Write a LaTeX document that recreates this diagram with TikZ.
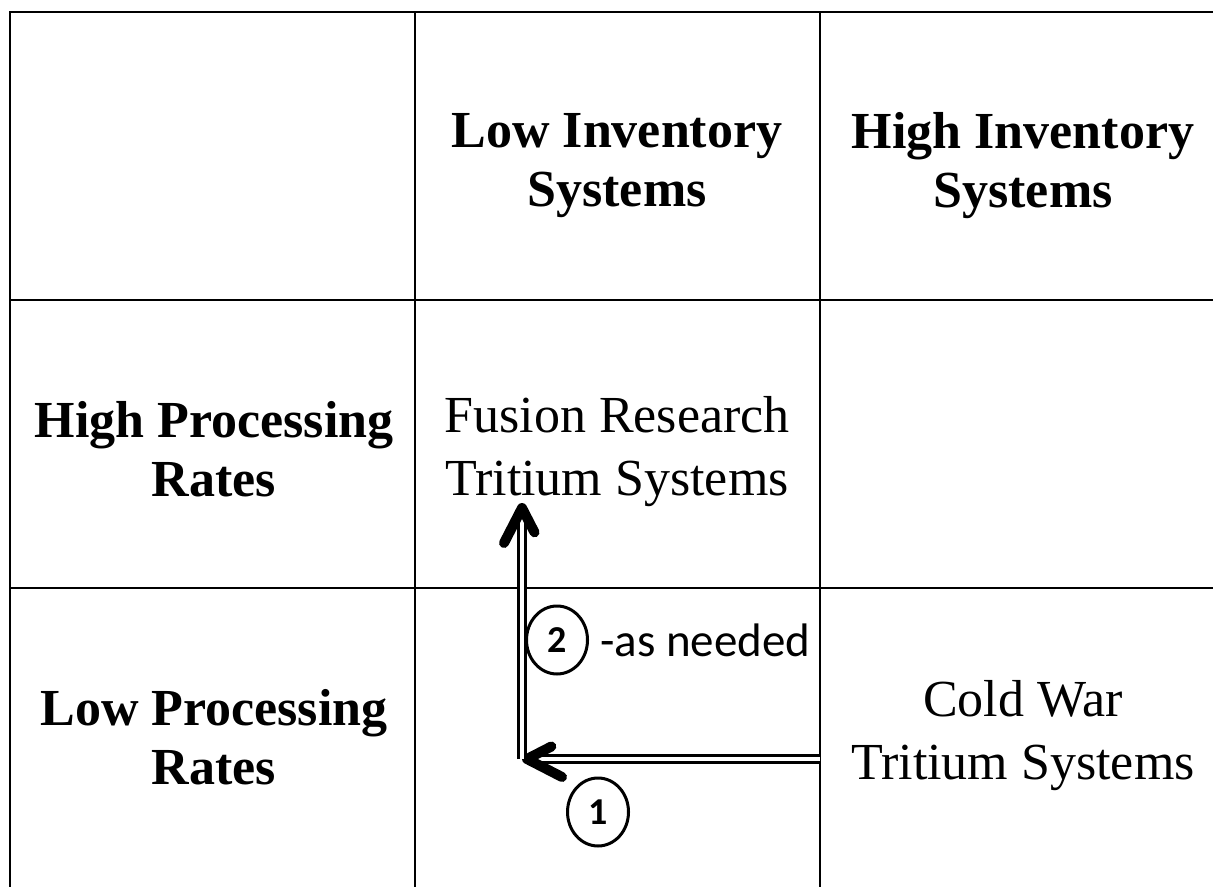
\documentclass[tikz,border=0pt]{standalone}
\usepackage{fontspec}
\setmainfont{Liberation Serif}
\newfontfamily\calibri{Carlito}
\usetikzlibrary{positioning, shapes.geometric, decorations.markings}

\begin{document}
\begin{tikzpicture}[x = 0.5pt, y = -0.5pt, % one unit per pixel, y going down
                line width = 1.4pt % table line style
            ]

            \tikzstyle{every node}=[inner sep = 0pt, align = center]
            \tikzstyle{head}=[font = \fontsize{26}{29.5}\selectfont\bfseries]
            \tikzstyle{cell}=[font = \fontsize{26}{31.5}\selectfont]
            \tikzstyle{num}=[draw, ellipse, line width = 1.5pt,
            minimum width = 30.5pt, minimum height = 34pt,
            font = \calibri\fontsize{19}{19}\selectfont\bfseries]
            \tikzstyle{note}=[font = \calibri\fontsize{23.5}{28}\selectfont]
            \tikzstyle{move}=[double, double distance = 2.2pt, line width = 1.3pt,
            shorten > = 6pt, postaction = {decorate, decoration = {markings,
            mark = at position 1 with {\draw[line width = 5pt, line cap = round,
            line join = round] (-40,-18) -- (-5,0) -- (-40,18);}}}]

            \useasboundingbox (0,0) rectangle (1213,887);

            % table lines
            \draw (10,887) -- (10,12) -- (1213,12); \draw (415,12) -- (415,887);
            \draw (820,12) -- (820,887); \draw (10,300) -- (1213,300);
            \draw (10,588) -- (1213,588);

            \node (li) [head] at (617,166) {Low Inventory\\Systems};
            \node (hi) [head] at (1023,166) {High Inventory\\Systems};
            \node (hp) [head] at (214,449) {High Processing\\Rates};
            \node (lp) [head] at (214,737) {Low Processing\\Rates};
            \node (fus) [cell] at (617,452) {Fusion Research\\Tritium Systems};
            \node (cw) [cell] at (1023,736) {Cold War\\Tritium Systems};

            \coordinate (from) at (820,759); \coordinate (turn) at (522,759);
            \coordinate (to) at (522,503);
            \path[draw, move] (from) -- (turn); \path[draw, move] (turn) -- (to);

            \node (c1) [num] at (598,812) {1};
            \node (c2) [num] at (557,640) {2};
            \node (need) [note, right = 5pt of c2] {-as needed};
\end{tikzpicture}
\end{document}
